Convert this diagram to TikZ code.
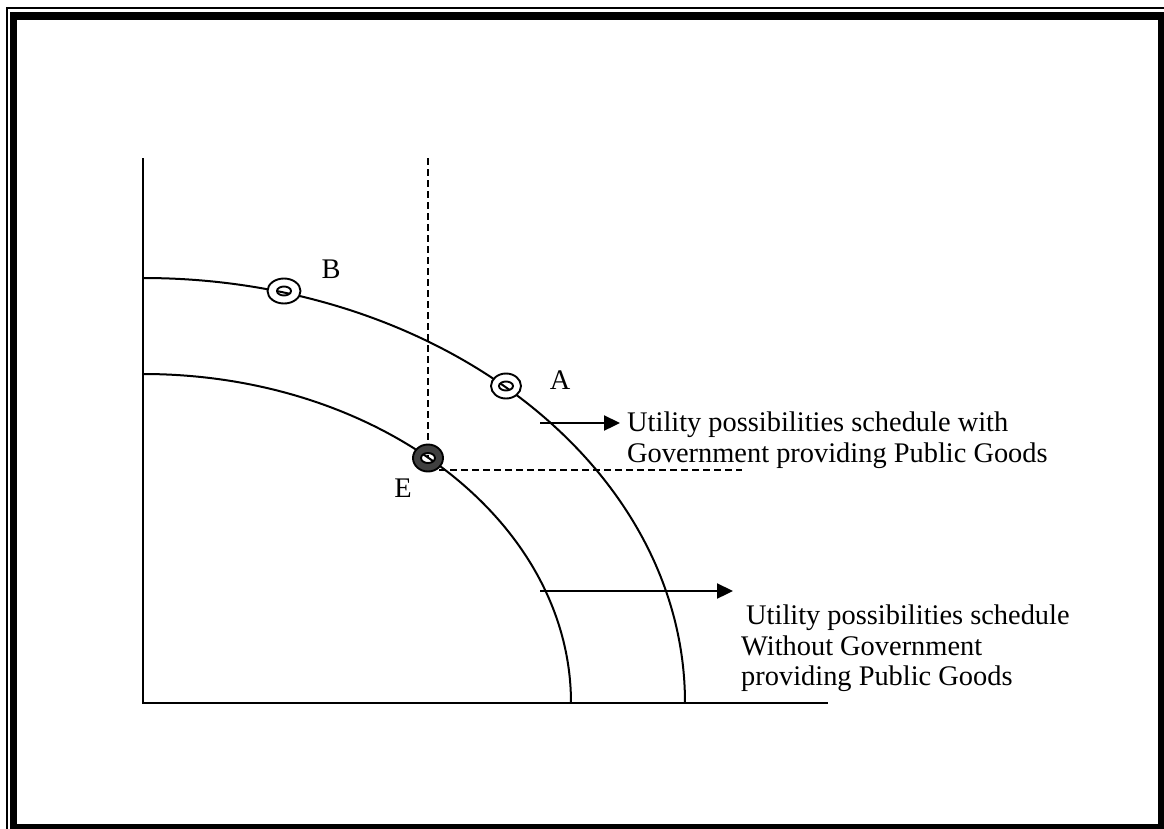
\documentclass[tikz,border=0pt]{standalone}
\usepackage{fontspec}
\setmainfont{Liberation Serif}
\usetikzlibrary{arrows.meta}
\begin{document}
\begin{tikzpicture}[x=1pt,y=-1pt,
  curve/.style={line width=2pt},
  axisline/.style={line width=2pt},
  guide/.style={line width=1.3pt, dash pattern=on 7pt off 4pt},
  pointer/.style={line width=2.3pt, -{Triangle[length=16pt,width=15pt]}},
  ring/.style={draw=black, fill=white, even odd rule, line width=1.9pt},
  darkring/.style={ring, fill=black!75},
  lbl/.style={font=\fontsize{28.4}{34}\selectfont, inner sep=0pt, anchor=base west},
  ptlbl/.style={font=\fontsize{28.4}{34}\selectfont, inner sep=0pt, anchor=base},
]
\useasboundingbox (0,0) rectangle (1164,828);
\clip (0,0) rectangle (1164,828);

% page frame: thin outer rule and heavy inner rule
\draw[line width=2pt] (7,8) rectangle (1180,845);
\draw[line width=7.5pt] (13.5,16) rectangle (1162,828);

% axes
\coordinate (ytop) at (143,158);
\coordinate (O) at (143,703);
\coordinate (xend) at (828,703);
\draw[axisline] (ytop) -- (O) -- (xend);

% utility possibilities schedules
\draw[curve] (143,278) arc[start angle=90, end angle=0, x radius=542pt, y radius=425pt];
\draw[curve] (143,374) arc[start angle=90, end angle=0, x radius=428pt, y radius=329pt];

% points on the schedules
\coordinate (B) at (284,291);
\coordinate (A) at (506,386);
\coordinate (E) at (428,458);

% dashed guides through E
\coordinate (vtop) at (428,158);
\coordinate (hfoot) at (428,470);
\coordinate (hend) at (742,470);
\draw[guide] (vtop) -- (E);
\draw[guide] (hfoot) -- (hend);

% point markers
\path[ring] (B) ellipse[x radius=16.5pt, y radius=12.5pt] (B) ellipse[x radius=7pt, y radius=4.5pt];
\path[ring] (A) ellipse[x radius=15pt, y radius=12.5pt] (A) ellipse[x radius=7pt, y radius=4.5pt];
\path[darkring] (E) ellipse[x radius=15pt, y radius=13.5pt] (E) ellipse[x radius=7pt, y radius=5pt];

\node[ptlbl] (labB) at (331,278) {B};
\node[ptlbl] (labA) at (560,389) {A};
\node[ptlbl] (labE) at (403,497) {E};

% pointers to the schedule descriptions
\coordinate (p1s) at (540,423);
\coordinate (p1e) at (620,423);
\coordinate (p2s) at (540,591);
\coordinate (p2e) at (733,591);
\draw[pointer] (p1s) -- (p1e);
\draw[pointer] (p2s) -- (p2e);

\node[lbl] (t1a) at (627,431) {Utility possibilities schedule with};
\node[lbl] (t1b) at (627,462) {Government providing Public Goods};
\node[lbl] (t2a) at (746,624) {Utility possibilities schedule};
\node[lbl] (t2b) at (741,655) {Without Government};
\node[lbl] (t2c) at (741,685) {providing Public Goods};
\end{tikzpicture}
\end{document}
